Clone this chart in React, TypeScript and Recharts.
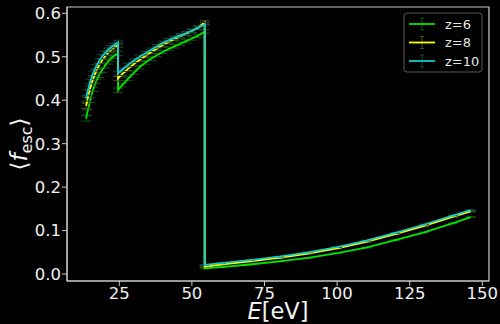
import React from 'react';
import { LineChart, Line, XAxis, YAxis, ErrorBar, ReferenceArea } from 'recharts';

const energies1 = [13.6, 14, 15, 16, 17, 18, 19, 20, 21, 22, 23, 24.6];
const energies2 = [24.6, 26, 28, 30, 32, 34, 36, 38, 40, 42, 44, 46, 48, 50, 52, 54.4];
const energies3 = [54.4, 60, 70, 80, 90, 100, 110, 120, 130, 140, 146];

const z6Seg1 = [0.358, 0.372, 0.4, 0.425, 0.443, 0.457, 0.469, 0.479, 0.488, 0.495, 0.501, 0.508];
const z6Seg2 = [0.423, 0.435, 0.449, 0.463, 0.476, 0.487, 0.496, 0.504, 0.511, 0.518, 0.524, 0.53, 0.536, 0.542, 0.548, 0.558];
const z6Seg3 = [0.013, 0.016, 0.022, 0.029, 0.037, 0.048, 0.061, 0.078, 0.096, 0.117, 0.131];

const z8Seg1 = [0.387, 0.401, 0.428, 0.449, 0.466, 0.48, 0.491, 0.5, 0.508, 0.515, 0.52, 0.527];
const z8Seg2 = [0.45, 0.46, 0.472, 0.483, 0.493, 0.502, 0.511, 0.519, 0.527, 0.534, 0.541, 0.547, 0.553, 0.559, 0.567, 0.579];
const z8Seg3 = [0.017, 0.022, 0.029, 0.037, 0.047, 0.059, 0.074, 0.092, 0.111, 0.132, 0.144];

const z10Seg1 = [0.404, 0.418, 0.443, 0.462, 0.477, 0.49, 0.5, 0.508, 0.515, 0.521, 0.526, 0.533];
const z10Seg2 = [0.462, 0.47, 0.481, 0.491, 0.5, 0.508, 0.516, 0.524, 0.532, 0.538, 0.544, 0.549, 0.554, 0.56, 0.566, 0.575];
const z10Seg3 = [0.021, 0.025, 0.032, 0.04, 0.05, 0.062, 0.077, 0.095, 0.114, 0.135, 0.147];

const errSeg1 = [0.006, 0.006, 0.005, 0.005, 0.005, 0.005, 0.005, 0.005, 0.005, 0.005, 0.005, 0.005];
const errSeg2 = [0.005, 0.004, 0.004, 0.004, 0.004, 0.004, 0.004, 0.004, 0.004, 0.004, 0.004, 0.004, 0.004, 0.004, 0.004, 0.004];
const errSeg3 = [0.001, 0.001, 0.001, 0.001, 0.001, 0.001, 0.001, 0.001, 0.001, 0.001, 0.001];

const xTicks = [25, 50, 75, 100, 125, 150];
const yTicks = [0, 0.1, 0.2, 0.3, 0.4, 0.5, 0.6];
const seriesNames = ['z=6', 'z=8', 'z=10'];

const xDomain: [number, number] = [7, 152.3];
const yDomain: [number, number] = [-0.016, 0.6145];

const energies = [...energies1, ...energies2, ...energies3];
const errs = [...errSeg1, ...errSeg2, ...errSeg3];
const build = (a: number[], b: number[], c: number[]) => {
  const v = [...a, ...b, ...c];
  return energies.map((e, i) => ({ e, f: v[i], err: errs[i] }));
};
const dataZ6 = build(z6Seg1, z6Seg2, z6Seg3);
const dataZ8 = build(z8Seg1, z8Seg2, z8Seg3);
const dataZ10 = build(z10Seg1, z10Seg2, z10Seg3);

const colors = ['#00e600', '#ffff00', '#17caca'];
const errColors = ['#145214', '#4d4d10', '#0f4747'];

const FONT = '"DejaVu Sans", Verdana, sans-serif';

const XLab = (props: any) => {
  const vb = props.viewBox || { x: 67, y: 281, width: 422, height: 43 };
  return (
    <text x={vb.x + vb.width / 2} y={vb.y + vb.height - 5} textAnchor="middle" fill="#f2f2f2" fontFamily={FONT} fontSize={22.5}>
      <tspan fontStyle="italic">E</tspan>
      <tspan>[eV]</tspan>
    </text>
  );
};

const YLab = (props: any) => {
  const vb = props.viewBox || { x: 0, y: 7, width: 67, height: 274 };
  const cy = vb.y + vb.height / 2;
  return (
    <text transform={`translate(27, ${cy}) rotate(-90)`} textAnchor="middle" fill="#f2f2f2" fontFamily={FONT} fontSize={23}>
      <tspan>⟨</tspan>
      <tspan fontStyle="italic">f</tspan>
      <tspan fontSize={16} dy={5}>esc</tspan>
      <tspan dy={-5}>⟩</tspan>
    </text>
  );
};

const LegendBox = () => (
  <svg width={80} height={61} style={{ position: 'absolute', left: 403, top: 12 }}>
    <rect x={1} y={1} width={78} height={59} rx={3} ry={3} fill="#000" stroke="#595959" strokeWidth={1} />
    {seriesNames.map((n, i) => {
      const y = 12 + i * 18.5;
      return (
        <g key={n}>
          <line x1={19} x2={19} y1={y - 6} y2={y + 6} stroke={errColors[i]} strokeWidth={1} />
          <line x1={17} x2={21} y1={y - 6} y2={y - 6} stroke={errColors[i]} strokeWidth={1} />
          <line x1={17} x2={21} y1={y + 6} y2={y + 6} stroke={errColors[i]} strokeWidth={1} />
          <line x1={6} x2={32} y1={y} y2={y} stroke={colors[i]} strokeWidth={1.8} />
          <text x={42} y={y + 4.5} fill="#e6e6e6" fontFamily={FONT} fontSize={13}>{n}</text>
        </g>
      );
    })}
  </svg>
);

export default function App() {
  const datas = [dataZ6, dataZ8, dataZ10];
  return (
    <div style={{ position: 'fixed', left: 0, top: 0, width: 500, height: 324, background: '#000' }}>
      <LineChart width={500} height={324} margin={{ top: 7, right: 11, bottom: 0, left: 0 }}>
        <XAxis
          type="number"
          dataKey="e"
          domain={xDomain}
          ticks={xTicks}
          allowDataOverflow
          height={43}
          tickSize={5}
          tickMargin={1}
          stroke="#cccccc"
          tick={{ fill: '#f0f0f0', fontSize: 16.5, fontFamily: FONT }}
          tickLine={{ stroke: '#cccccc' }}
          label={<XLab />}
        />
        <YAxis
          type="number"
          dataKey="f"
          domain={yDomain}
          ticks={yTicks}
          allowDataOverflow
          width={67}
          tickSize={5}
          tickMargin={1}
          stroke="#cccccc"
          tickFormatter={(v: number) => v.toFixed(1)}
          tick={{ fill: '#f0f0f0', fontSize: 16.5, fontFamily: FONT }}
          tickLine={{ stroke: '#cccccc' }}
          label={<YLab />}
        />
        <ReferenceArea x1={xDomain[0]} x2={xDomain[1]} y1={yDomain[0]} y2={yDomain[1]} fill="none" stroke="#cccccc" strokeWidth={1.2} ifOverflow="visible" />
        {datas.map((d, i) => (
          <Line
            key={seriesNames[i]}
            data={d}
            dataKey="f"
            name={seriesNames[i]}
            stroke={colors[i]}
            strokeWidth={1.8}
            dot={false}
            type="linear"
            isAnimationActive={false}
          >
            <ErrorBar dataKey="err" width={5} stroke={errColors[i]} strokeWidth={1} direction="y" isAnimationActive={false} />
          </Line>
        ))}
      </LineChart>
      <LegendBox />
    </div>
  );
}
